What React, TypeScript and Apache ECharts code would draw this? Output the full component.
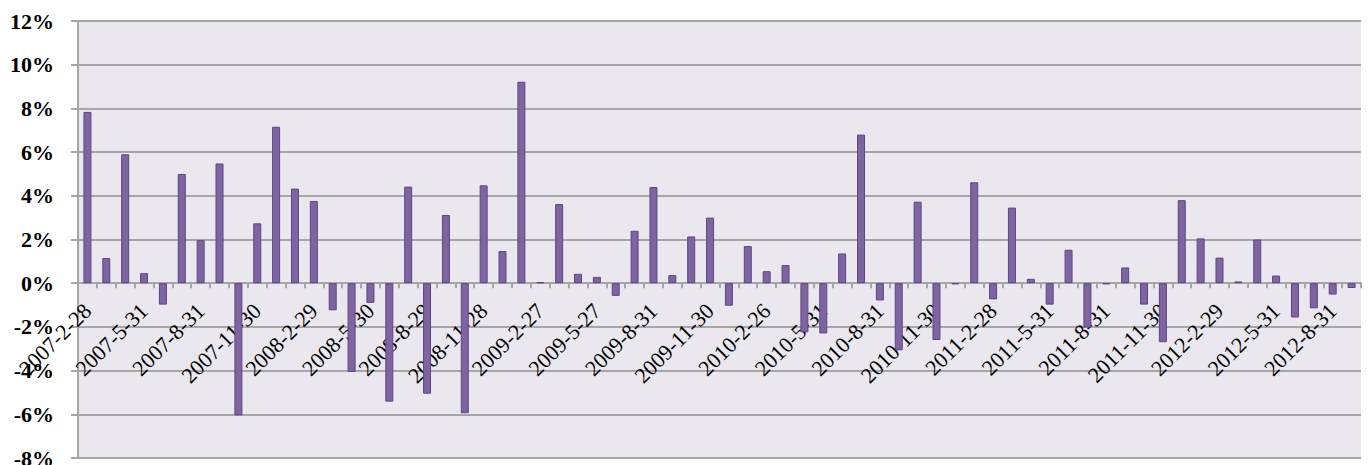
import React, { useEffect, useRef } from "react";
import * as echarts from "echarts";

const categories: string[] = [
  "2007-2-28", "2007-3-30", "2007-4-30", "2007-5-31", "2007-6-29", "2007-7-31", "2007-8-31", "2007-9-28", "2007-10-31", "2007-11-30", "2007-12-28",
  "2008-1-31", "2008-2-29", "2008-3-31", "2008-4-30", "2008-5-30", "2008-6-30", "2008-7-31", "2008-8-29", "2008-9-26", "2008-10-31", "2008-11-28", "2008-12-31",
  "2009-1-23", "2009-2-27", "2009-3-31", "2009-4-30", "2009-5-27", "2009-6-30", "2009-7-31", "2009-8-31", "2009-9-30", "2009-10-30", "2009-11-30", "2009-12-31",
  "2010-1-29", "2010-2-26", "2010-3-31", "2010-4-30", "2010-5-31", "2010-6-30", "2010-7-30", "2010-8-31", "2010-9-30", "2010-10-29", "2010-11-30", "2010-12-31",
  "2011-1-31", "2011-2-28", "2011-3-31", "2011-4-29", "2011-5-31", "2011-6-30", "2011-7-29", "2011-8-31", "2011-9-30", "2011-10-31", "2011-11-30", "2011-12-30",
  "2012-1-31", "2012-2-29", "2012-3-30", "2012-4-27", "2012-5-31", "2012-6-29", "2012-7-31", "2012-8-31", "2012-9-28",
];

const returns: number[] = [
  7.84, 1.15, 5.9, 0.46, -0.98, 5.0, 1.97, 5.48, -6.05, 2.74, 7.16,
  4.33, 3.76, -1.24, -4.06, -0.9, -5.42, 4.42, -5.06, 3.12, -5.95, 4.48, 1.47,
  9.22, 0.05, 3.62, 0.43, 0.29, -0.58, 2.4, 4.4, 0.37, 2.14, 3.0, -1.03,
  1.7, 0.55, 0.83, -2.25, -2.3, 1.36, 6.8, -0.79, -3.07, 3.73, -2.6, -0.05,
  4.62, -0.74, 3.46, 0.2, -0.98, 1.53, -2.03, -0.05, 0.72, -0.98, -2.7, 3.8,
  2.05, 1.17, 0.08, 2.0, 0.35, -1.57, -1.15, -0.52, -0.22,
];

const yMin = -8;
const yMax = 12;
const yStep = 2;

const W = 1371;
const H = 465;
const gridTop = 21;
const gridBottom = 7;
const plotH = H - gridTop - gridBottom;
// place the category axis (line, ticks and labels) on the zero line
const zeroOffset = -((0 - yMin) / (yMax - yMin)) * plotH;

const serif = "Liberation Serif";

export default function App() {
  const ref = useRef<HTMLDivElement>(null);
  useEffect(() => {
    document.body.style.margin = "0";
    if (!ref.current) return;
    const chart = echarts.init(ref.current, undefined, { renderer: "svg" });
    const gray = "#A6A6A6";
    chart.setOption({
      animation: false,
      backgroundColor: "#FFFFFF",
      grid: {
        left: 78,
        right: 10,
        top: gridTop,
        bottom: gridBottom,
        show: true,
        backgroundColor: "#EAE8EE",
        borderWidth: 0,
        containLabel: false,
        outerBoundsMode: "none",
      },
      xAxis: {
        type: "category",
        data: categories,
        boundaryGap: true,
        offset: zeroOffset,
        axisLine: { show: true, onZero: false, lineStyle: { color: gray, width: 2 } },
        axisTick: { show: true, interval: 0, length: 5, lineStyle: { color: gray, width: 2 } },
        axisLabel: {
          interval: 2,
          rotate: 45,
          margin: 24,
          fontFamily: serif,
          fontSize: 22,
          color: "#000000",
          padding: [12, 0, 0, 0],
          hideOverlap: false,
        },
        splitLine: { show: false },
        z: 3,
      },
      yAxis: {
        type: "value",
        min: yMin,
        max: yMax,
        interval: yStep,
        axisLine: { show: true, lineStyle: { color: gray, width: 2 } },
        axisTick: { show: true, length: 7, lineStyle: { color: gray, width: 2 } },
        axisLabel: {
          formatter: "{value}%",
          fontFamily: serif,
          fontWeight: "bold",
          fontSize: 22,
          color: "#000000",
          margin: 24,
        },
        splitLine: { show: true, lineStyle: { color: gray, width: 2 } },
      },
      series: [
        {
          type: "bar",
          data: returns,
          barWidth: 8,
          itemStyle: { color: "#8064A2", borderColor: "#5C4783", borderWidth: 1 },
          z: 4,
        },
      ],
    });
    return () => chart.dispose();
  }, []);
  return <div ref={ref} style={{ width: W, height: H }} />;
}
